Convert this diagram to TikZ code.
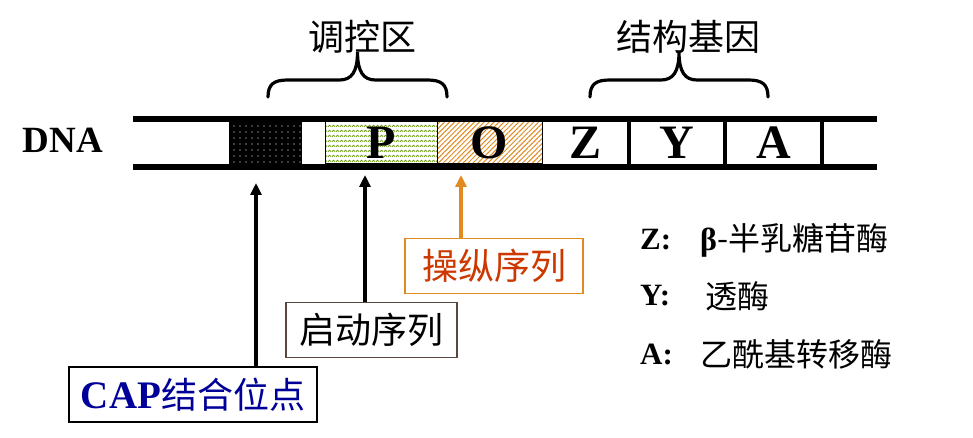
\documentclass[tikz,border=0pt]{standalone}
\usepackage{fontspec}
\setmainfont{Liberation Serif}
\newfontfamily\cjk{Noto Sans CJK SC}
\usetikzlibrary{arrows.meta,patterns.meta,positioning}
\definecolor{capblue}{rgb}{0,0,0.6}
\definecolor{opcolor}{rgb}{0.88,0.54,0.12}
\definecolor{optext}{rgb}{0.8,0.22,0.0}
\definecolor{procolor}{rgb}{0.42,0.62,0.05}
\definecolor{proframe}{rgb}{0.35,0.28,0.25}
% wavy fill of the promoter
\pgfdeclarepatternformonly{waves}{\pgfpointorigin}{\pgfpoint{4pt}{5pt}}{\pgfpoint{4pt}{5pt}}{
  \pgfsetlinewidth{0.9pt}
  \pgfpathmoveto{\pgfpoint{0pt}{1.5pt}}
  \pgfpathlineto{\pgfpoint{2pt}{3.3pt}}
  \pgfpathlineto{\pgfpoint{4pt}{1.5pt}}
  \pgfusepath{stroke}}
\newcommand{\geneFmt}[1]{{\fontsize{48}{48}\selectfont\bfseries #1}}
\newcommand{\regionBrace}[3]{%
  \pgfmathsetmacro{\bracemid}{(#1+#2)/2}
  \draw[brace] (#1,97) .. controls (#1,84) and (#1+6,80) .. (#1+20,80)
    -- (\bracemid-18,80) .. controls (\bracemid-6,80) and (\bracemid,72) .. (\bracemid,52)
    .. controls (\bracemid,72) and (\bracemid+6,80) .. (\bracemid+18,80)
    -- (#2-20,80) .. controls (#2-6,80) and (#2,84) .. (#2,97);
  \coordinate (#3) at (\bracemid,52);
}

\begin{document}
\begin{tikzpicture}[
      x=1pt, y=-1pt,
      strand/.style={line width=6.5pt},
      seg/.style={draw, line width=1pt, inner sep=0pt, minimum height=42pt},
      divider/.style={line width=3.5pt},
      brace/.style={line width=3.2pt, line cap=round},
      ptr/.style={-{Triangle[length=12pt,width=11pt]}, line width=3.5pt},
      labelbox/.style={draw, line width=1.2pt, fill=white, inner sep=0pt, minimum height=55pt, font=\cjk\fontsize{36}{36}\selectfont},
      title/.style={font=\cjk\fontsize{36}{36}\selectfont},
      legkey/.style={anchor=west, inner sep=0pt, font=\fontsize{31}{31}\selectfont\bfseries},
      legtext/.style={anchor=west, inner sep=0pt, font=\cjk\fontsize{32}{32}\selectfont},
    ]
    \useasboundingbox (0,0) rectangle (973,438);

    % segments between the two strands
    \node[inner sep=0pt, minimum width=73pt, minimum height=42pt, preaction={fill=black}, pattern={Dots[distance=6pt, radius=0.7pt]}, pattern color=white] (cap) at (265.5,143) {};
    \node[seg, minimum width=112pt, pattern=waves, pattern color=procolor] (promoter) at (381,143) {\geneFmt{P}};
    \node[seg, minimum width=105pt, pattern={Lines[angle=45, distance=3.5pt, line width=1pt]}, pattern color=opcolor] (operator) at (489.5,143) {\geneFmt{O}};
    \node[inner sep=0pt, minimum width=87pt, minimum height=42pt] (genez) at (585.5,143) {\geneFmt{Z}};
    \node[inner sep=0pt, minimum width=96pt, minimum height=42pt] (geney) at (677,143) {\geneFmt{Y}};
    \node[inner sep=0pt, minimum width=97pt, minimum height=42pt] (genea) at (773.5,143) {\geneFmt{A}};

    \draw[strand] (133,119) -- (877,119);
    \draw[strand] (133,167) -- (877,167);
    \draw[divider] (genez.north east) -- (genez.south east);
    \draw[divider] (geney.north east) -- (geney.south east);
    \draw[divider] (genea.north east) -- (genea.south east);

    \node[font=\fontsize{37}{37}\selectfont\bfseries] (dna) at (63,140) {DNA};

    % braces and titles
    \regionBrace{268}{447}{regtip}
    \regionBrace{590}{768}{strtip}
    \node[title] (regtitle) at (362,37) {调控区};
    \node[title] (strtitle) at (688,37) {结构基因};

    % labels below
    \node[labelbox, draw=black, text=capblue, minimum width=248pt] (capsite) at (193,394.5) {{\rmfamily\bfseries\fontsize{39}{39}\selectfont CAP}结合位点};
    \node[labelbox, draw=proframe, minimum width=171pt] (prolabel) at (371.5,330) {启动序列};
    \node[labelbox, draw=opcolor, text=optext, minimum width=178pt] (oplabel) at (494,266) {操纵序列};

    \coordinate (captip) at (256,183);
    \coordinate (protip) at (365,175);
    \coordinate (optip) at (461,175);
    \draw[ptr] (capsite.north -| captip) -- (captip);
    \draw[ptr] (prolabel.north -| protip) -- (protip);
    \draw[ptr, opcolor] (oplabel.north -| optip) -- (optip);

    % legend
    \node[legkey] (keyz) at (640,240) {Z:};
    \node[legkey] (keyy) at (640,296) {Y:};
    \node[legkey] (keya) at (640,354) {A:};
    \node[legtext] (descz) at (700,240) {{\rmfamily\bfseries β}-半乳糖苷酶};
    \node[legtext] (descy) at (705,296) {透酶};
    \node[legtext] (desca) at (700,354) {乙酰基转移酶};
\end{tikzpicture}
\end{document}
